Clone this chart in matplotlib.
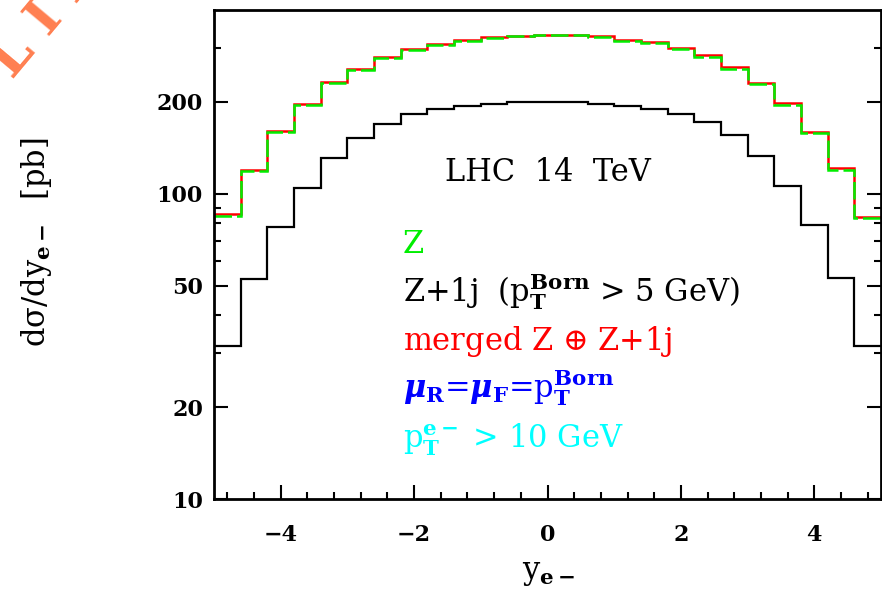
import numpy as np
import matplotlib
matplotlib.use('Agg')
import matplotlib.pyplot as plt
from matplotlib.ticker import FixedLocator, MultipleLocator, NullFormatter, FixedFormatter

plt.rcParams['font.family'] = ['DejaVu Serif']
plt.rcParams['mathtext.fontset'] = 'dejavuserif'

# ---- data ----
bin_edges = np.round(np.arange(-5.0, 5.0001, 0.4), 2)
merged_vals = [86.0, 119.5, 160.7, 196.8, 233, 257, 281, 298.5, 310, 319.5, 326, 330,
               332.5,
               332, 328, 320, 314.7, 300, 284.6, 260, 230.5, 198, 159.8, 121.3, 84.1]
z_vals = [84.5, 118.5, 159.5, 195, 231, 254, 278.5, 296.5, 308, 317.5, 324.5, 329,
          331,
          330.5, 326, 317.5, 312, 298, 281.5, 257, 229, 196, 158.5, 120, 83.5]
zj_vals = [31.6, 52.4, 77.8, 104.6, 131.4, 152.8, 169.7, 182, 189, 193.4, 197.3, 199.8,
           200.3,
           199.8, 196.4, 194, 190, 182, 171.9, 155.5, 132.8, 106.2, 79.2, 52.9, 31.8]
y_major = [10, 20, 50, 100, 200]
y_major_labels = ['10', '20', '50', '100', '200']
y_minor = [30, 40, 60, 70, 80, 90, 300]
x_major = [-4, -2, 0, 2, 4]

W, H = 882, 590
fig = plt.figure(figsize=(W / 100, H / 100), dpi=100)
ax = fig.add_axes([214 / W, 1 - 499 / H, 667 / W, 489 / H])

ax.stairs(zj_vals, bin_edges, baseline=None, color='black', lw=1.6)
ax.stairs(merged_vals, bin_edges, baseline=None, color='red', lw=1.8)
ax.stairs(z_vals, bin_edges, baseline=None, color='#00ee00', lw=1.8,
          linestyle=(0, (7, 2)))

ax.set_yscale('log')
ax.set_xlim(-5, 5)
ax.set_ylim(10, 400)

ax.yaxis.set_major_locator(FixedLocator(y_major))
ax.yaxis.set_major_formatter(FixedFormatter(y_major_labels))
ax.yaxis.set_minor_locator(FixedLocator(y_minor))
ax.yaxis.set_minor_formatter(NullFormatter())
ax.xaxis.set_major_locator(FixedLocator(x_major))
ax.xaxis.set_minor_locator(MultipleLocator(0.4))

for s in ax.spines.values():
    s.set_linewidth(2.0)

ax.tick_params(which='both', direction='in', right=True, top=False, width=1.5)
ax.tick_params(which='major', length=10, labelsize=16)
ax.tick_params(which='minor', length=5)
ax.tick_params(axis='y', which='major', pad=8)
ax.tick_params(axis='x', which='major', pad=18)
for lab in ax.get_xticklabels() + ax.get_yticklabels():
    lab.set_fontweight('semibold')

def px(x, y):
    return x / W, 1 - y / H

fig.text(*px(37, 242), r'dσ/dy$_{\mathbf{e-}}$  [pb]', rotation=90,
         ha='center', va='center', fontsize=22)
fig.text(*px(548, 572), r'y$_{\mathbf{e-}}$', ha='center', va='center', fontsize=22)

fig.text(*px(548, 172), 'LHC  14  TeV', ha='center', va='center', fontsize=22)

fs = 22
fig.text(*px(403, 253), 'Z', color='#00ee00', ha='left', va='baseline', fontsize=fs)
fig.text(*px(403, 302), r'Z+1j  (p$_{\mathbf{T}}^{\mathbf{Born}}$ > 5 GeV)', color='black',
         ha='left', va='baseline', fontsize=fs)
fig.text(*px(403, 350), r'merged Z $\oplus$ Z+1j', color='red',
         ha='left', va='baseline', fontsize=fs)
fig.text(*px(403, 398), r'$\mathbfit{\mu}_{\mathbf{R}}$=$\mathbfit{\mu}_{\mathbf{F}}$=p$_{\mathbf{T}}^{\mathbf{Born}}$',
         color='blue', ha='left', va='baseline', fontsize=fs)
fig.text(*px(403, 447), r'p$_{\mathbf{T}}^{\mathbf{e-}}$ > 10 GeV', color='cyan',
         ha='left', va='baseline', fontsize=fs)

fig.text(*px(33, 33), 'E L I M', rotation=50, ha='center', va='center',
         rotation_mode='anchor', color='#ff7f50', fontsize=38, fontweight='bold')

fig.savefig('out.png', dpi=100)
